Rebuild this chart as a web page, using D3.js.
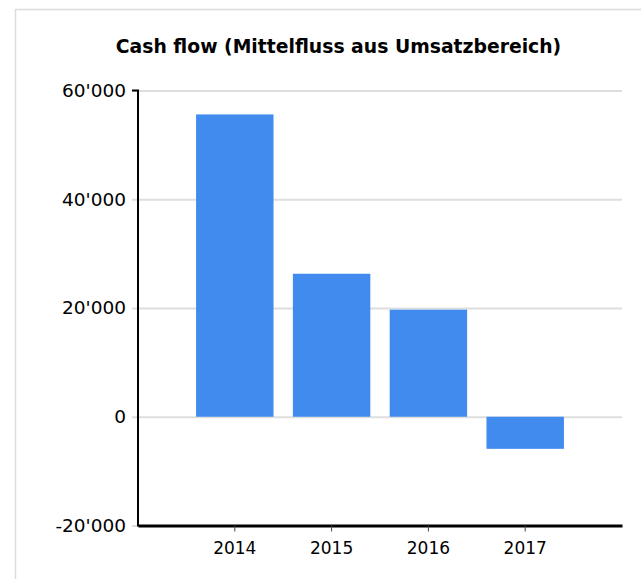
<!DOCTYPE html>
<html>
<head>
<meta charset="utf-8">
<script src="https://cdn.jsdelivr.net/npm/d3@7/dist/d3.min.js"></script>
<style>
  body { margin: 0; background: #fff; }
  svg { display: block; font-family: "DejaVu Sans", Verdana, sans-serif; }
</style>
</head>
<body>
<div id="chart"></div>
<script>
// data
const years = ["2014", "2015", "2016", "2017"];
const cashFlow = [55600, 26300, 19700, -5900];
const yTicks = [-20000, 0, 20000, 40000, 60000];
const title = "Cash flow (Mittelfluss aus Umsatzbereich)";

const W = 641, H = 579;
const margin = { top: 90.5, right: 19, bottom: 53.5, left: 138 };
const width = W - margin.left - margin.right,
    height = H - margin.top - margin.bottom;

const svg = d3.select("#chart").append("svg")
    .attr("width", W)
    .attr("height", H);

// outer frame (top + left edge only)
svg.append("path")
    .attr("d", "M15.5," + H + "V9.5H" + W)
    .attr("fill", "none")
    .attr("stroke", "#dcdcdc")
    .attr("stroke-width", 1.5);

svg.append("text")
    .attr("x", 338.5)
    .attr("y", 52.5)
    .attr("text-anchor", "middle")
    .attr("font-size", "18.8px")
    .attr("font-weight", "bold")
    .attr("fill", "#000")
    .text(title);

const g = svg.append("g")
    .attr("transform", "translate(" + margin.left + "," + margin.top + ")");

const x = d3.scaleBand().domain(years).range([0, width])
    .paddingInner(0.2).paddingOuter(0.6);
const y = d3.scaleLinear().domain([-20000, 60000]).range([height, 0]);

const fmt = v => d3.format(",")(v).replace(/,/g, "'").replace("−", "-");

// gridlines + y tick labels
const yAxis = g.append("g")
    .call(d3.axisLeft(y).tickValues(yTicks).tickFormat(fmt)
        .tickSize(-width).tickPadding(12).tickSizeOuter(0));
yAxis.select(".domain").remove();
yAxis.selectAll(".tick line")
    .attr("x1", -6)
    .attr("stroke", "#dedede")
    .attr("stroke-width", 2);
yAxis.selectAll(".tick text")
    .attr("font-size", "18.5px")
    .attr("fill", "#000")
    .attr("font-family", "DejaVu Sans, Verdana, sans-serif");

// bars
g.selectAll(".bar")
    .data(years)
    .enter().append("rect")
    .attr("class", "bar")
    .attr("x", d => x(d))
    .attr("width", x.bandwidth())
    .attr("y", (d, i) => y(Math.max(0, cashFlow[i])))
    .attr("height", (d, i) => Math.abs(y(cashFlow[i]) - y(0)))
    .attr("fill", "#418bee");

// x axis
const xAxis = g.append("g")
    .attr("transform", "translate(0," + height + ")")
    .call(d3.axisBottom(x).tickSize(6).tickPadding(10).tickSizeOuter(0));
xAxis.select(".domain")
    .attr("stroke", "#000")
    .attr("stroke-width", 3);
xAxis.selectAll(".tick line")
    .attr("stroke", "#444")
    .attr("stroke-width", 1);
xAxis.selectAll(".tick text")
    .attr("font-size", "17px")
    .attr("fill", "#000")
    .attr("font-family", "DejaVu Sans, Verdana, sans-serif");

// y axis line with top hook
g.append("path")
    .attr("d", "M-6,0H0V" + (height + 1))
    .attr("fill", "none")
    .attr("stroke", "#000")
    .attr("stroke-width", 2);
</script>
</body>
</html>
